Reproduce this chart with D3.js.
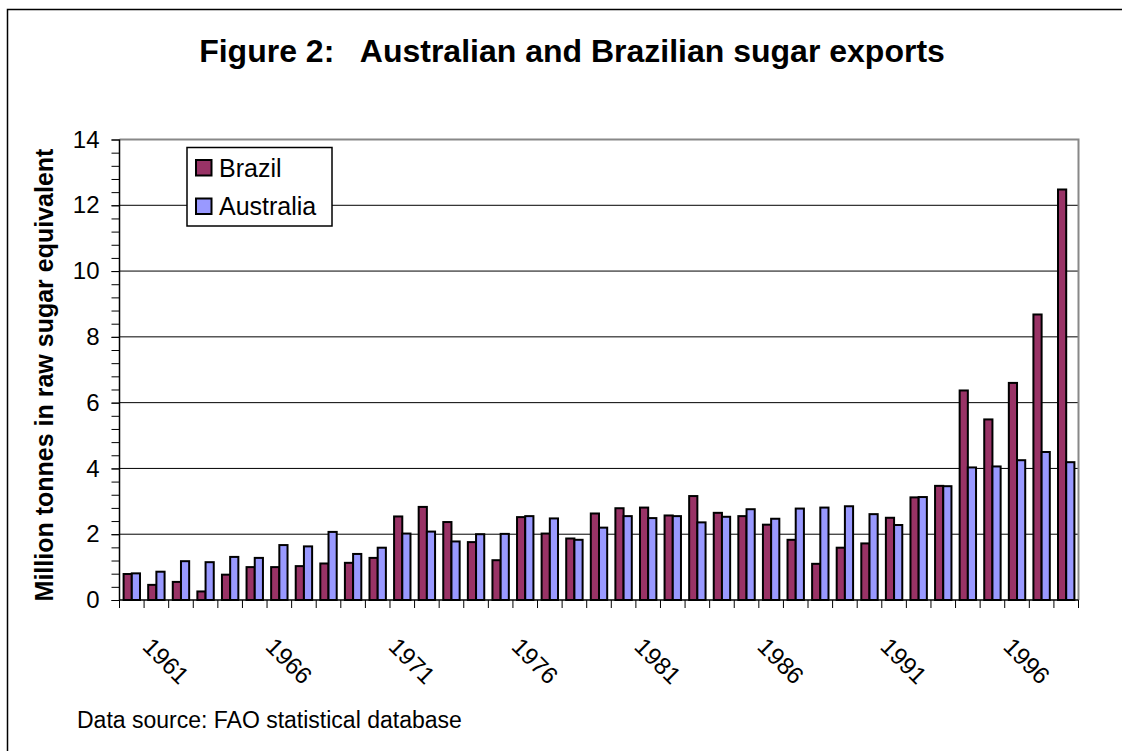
<!DOCTYPE html>
<html>
<head>
<meta charset="utf-8">
<script src="https://cdn.jsdelivr.net/npm/d3@7"></script>
<style>
  html, body { margin: 0; padding: 0; background: #fff; }
  svg { display: block; font-family: Arial, "Liberation Sans", sans-serif; }
</style>
</head>
<body>
<svg id="chart" width="1122" height="751"></svg>
<script>
// Sugar exports, million tonnes raw sugar equivalent
const years = ["1961","1962","1963","1964","1965","1966","1967","1968","1969","1970",
  "1971","1972","1973","1974","1975","1976","1977","1978","1979","1980",
  "1981","1982","1983","1984","1985","1986","1987","1988","1989","1990",
  "1991","1992","1993","1994","1995","1996","1997","1998","1999"];
const brazil = [0.79, 0.46, 0.55, 0.26, 0.77, 1.00, 1.00, 1.03, 1.11, 1.13,
  1.28, 2.54, 2.83, 2.37, 1.76, 1.21, 2.52, 2.02, 1.87, 2.63,
  2.79, 2.81, 2.57, 3.16, 2.65, 2.55, 2.29, 1.83, 1.10, 1.59,
  1.72, 2.50, 3.12, 3.47, 6.37, 5.49, 6.60, 8.68, 12.48];
const australia = [0.81, 0.86, 1.18, 1.15, 1.31, 1.28, 1.67, 1.63, 2.07, 1.40,
  1.59, 2.02, 2.08, 1.78, 2.00, 2.01, 2.55, 2.48, 1.83, 2.20,
  2.55, 2.49, 2.55, 2.36, 2.53, 2.76, 2.47, 2.78, 2.81, 2.85,
  2.61, 2.28, 3.13, 3.46, 4.03, 4.06, 4.25, 4.50, 4.19];
const seriesNames = ["Brazil", "Australia"];
const seriesColors = ["#993366", "#9999FF"];
const yTicks = [0, 2, 4, 6, 8, 10, 12, 14];
const xLabels = ["1961","1966","1971","1976","1981","1986","1991","1996"];

const svg = d3.select("#chart");
const plotLeft = 119.5, plotRight = 1078.5, plotTop = 139.5, plotBottom = 600;

// outer frame (right and bottom edges fall just past the page)
svg.append("rect")
  .attr("x", 7.5).attr("y", 9.5).attr("width", 1116).attr("height", 760)
  .attr("fill", "#fff").attr("stroke", "#000").attr("stroke-width", 1.5);

const x = d3.scaleBand().domain(years).range([plotLeft, plotRight])
  .paddingInner(1/3).paddingOuter(1/6);
const step = x.step();
const xs = d3.scaleBand().domain(seriesNames).range([0, x.bandwidth()]);
const y = d3.scaleLinear().domain([0, 14]).range([plotBottom, plotTop]);
const color = d3.scaleOrdinal().domain(seriesNames).range(seriesColors);

// gridlines
svg.append("g").selectAll("line").data(yTicks.filter(v => v > 0 && v < 14)).join("line")
  .attr("x1", plotLeft).attr("x2", plotRight)
  .attr("y1", d => y(d)).attr("y2", d => y(d))
  .attr("stroke", "#000").attr("stroke-width", 1);

// plot area border (top and right)
svg.append("path")
  .attr("d", `M${plotLeft},${y(14)}H${plotRight}V${plotBottom}`)
  .attr("fill", "none").attr("stroke", "#888").attr("stroke-width", 2);

// bars
const rows = years.map((yr, i) => ({ year: yr, values: [
  { key: "Brazil", value: brazil[i] },
  { key: "Australia", value: australia[i] }
]}));
svg.append("g").selectAll("g").data(rows).join("g")
  .attr("transform", d => `translate(${x(d.year)},0)`)
  .selectAll("rect").data(d => d.values).join("rect")
  .attr("x", d => xs(d.key))
  .attr("width", xs.bandwidth())
  .attr("y", d => y(d.value))
  .attr("height", d => y(0) - y(d.value))
  .attr("fill", d => color(d.key))
  .attr("stroke", "#000").attr("stroke-width", 2);

// y axis: minor ticks
const minor = d3.range(0, 14.001, 0.4).map(v => +v.toFixed(1));
svg.append("g").attr("transform", `translate(${plotLeft},0)`)
  .call(d3.axisLeft(y).tickValues(minor).tickSize(8).tickFormat(""))
  .call(g => g.select(".domain").remove())
  .selectAll("line").attr("stroke", "#000");

// y axis: major ticks and labels
const yAxis = svg.append("g").attr("transform", `translate(${plotLeft},0)`)
  .call(d3.axisLeft(y).tickValues(yTicks).tickSize(8).tickPadding(12).tickFormat(d3.format("d")));
yAxis.select(".domain").attr("stroke", "#000").attr("stroke-width", 1.5).attr("d", `M0,${plotTop}V${plotBottom}`);
yAxis.selectAll("line").attr("stroke", "#000");
yAxis.selectAll("text").attr("font-size", 24).attr("font-family", "Arial, 'Liberation Sans', sans-serif").attr("fill", "#000");

// x axis: category boundary ticks
const boundaries = d3.range(years.length + 1).map(i => plotLeft + i * step);
svg.append("g").selectAll("line").data(boundaries).join("line")
  .attr("x1", d => d).attr("x2", d => d)
  .attr("y1", plotBottom).attr("y2", plotBottom + 8)
  .attr("stroke", "#000").attr("stroke-width", 1);
svg.append("line")
  .attr("x1", plotLeft).attr("x2", plotRight).attr("y1", plotBottom).attr("y2", plotBottom)
  .attr("stroke", "#000").attr("stroke-width", 1.5);

// rotated year labels
svg.append("g").selectAll("text").data(xLabels).join("text")
  .attr("transform", d => `translate(${x(d) - step / 6 + step / 2 + 9.5},648) rotate(45)`)
  .attr("font-size", 24).attr("fill", "#000")
  .text(d => d);

// y-axis title
svg.append("text")
  .attr("transform", "translate(53,375) rotate(-90)")
  .attr("text-anchor", "middle")
  .attr("font-size", 25).attr("font-weight", "bold")
  .text("Million tonnes in raw sugar equivalent");

// chart title
svg.append("text")
  .attr("x", 572).attr("y", 62)
  .attr("text-anchor", "middle")
  .style("white-space", "pre")
  .attr("font-size", 32).attr("font-weight", "bold")
  .text("Figure 2:   Australian and Brazilian sugar exports");

// source note
svg.append("text")
  .attr("x", 77).attr("y", 728)
  .attr("font-size", 23)
  .text("Data source: FAO statistical database");

// legend
const legend = svg.append("g");
legend.append("rect")
  .attr("x", 187).attr("y", 147.5).attr("width", 145).attr("height", 78.5)
  .attr("fill", "#fff").attr("stroke", "#000").attr("stroke-width", 1.5);
seriesNames.forEach((name, i) => {
  const yy = 160 + i * 38.5;
  legend.append("rect")
    .attr("x", 196).attr("y", yy).attr("width", 15.5).attr("height", 15.5)
    .attr("fill", color(name)).attr("stroke", "#000").attr("stroke-width", 2);
  legend.append("text")
    .attr("x", 219).attr("y", yy + 16.5)
    .attr("font-size", 25)
    .text(name);
});
</script>
</body>
</html>
